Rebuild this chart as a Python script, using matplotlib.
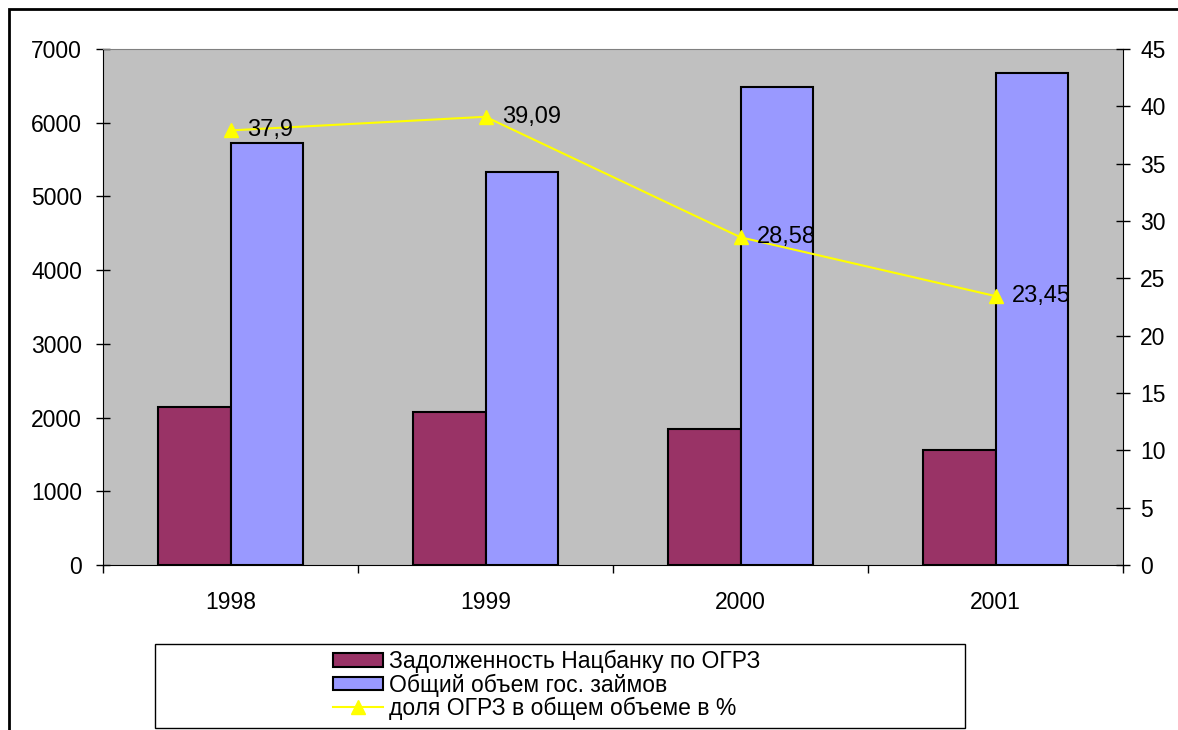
import numpy as np
import matplotlib.pyplot as plt
from matplotlib.patches import Rectangle, Patch
from matplotlib.lines import Line2D

plt.rcParams['font.family'] = ['Liberation Sans', 'DejaVu Sans']

years = ['1998', '1999', '2000', '2001']
debt_nbu = [2150, 2075, 1845, 1560]
total_loans = [5720, 5330, 6485, 6675]
share_pct = [37.9, 39.09, 28.58, 23.45]
share_labels = ['37,9', '39,09', '28,58', '23,45']

fig = plt.figure(figsize=(11.78, 7.30), dpi=100)
ax = fig.add_axes([103/1178, 1 - 565/730, 1020/1178, 516/730])
ax.set_facecolor('#C0C0C0')

x = np.arange(len(years))
w = 0.286
ax.bar(x - w/2, debt_nbu, w, color='#993366', edgecolor='black', linewidth=1.5, zorder=2)
ax.bar(x + w/2, total_loans, w, color='#9999FF', edgecolor='black', linewidth=1.5, zorder=2)
ax.set_xlim(-0.5, 3.5)
ax.set_ylim(0, 7000)
ax.set_yticks(range(0, 7001, 1000))
ax.set_xticks(x)
ax.set_xticklabels(years)
ax.set_xticks(np.arange(-0.5, 3.6, 1), minor=True)
ax.tick_params(axis='x', which='major', length=0, labelsize=16.5, pad=19)
ax.tick_params(axis='x', which='minor', length=6, width=1, direction='out')
ax.tick_params(axis='y', length=10, width=1, direction='inout', labelsize=16.5, pad=10)
ax.spines['top'].set_color('#808080')
ax.spines['right'].set_visible(False)

ax2 = ax.twinx()
ax2.plot(x, share_pct, color='#FFFF00', linewidth=1.5, marker='^', markersize=10,
         markeredgecolor='#FFFF00', zorder=3)
for xi, v, lab in zip(x, share_pct, share_labels):
    ax2.annotate(lab, (xi, v), xytext=(12, 0), textcoords='offset points',
                 va='center', ha='left', fontsize=17)
ax2.set_ylim(0, 45)
ax2.set_yticks(range(0, 46, 5))
ax2.tick_params(axis='y', length=10, width=1, direction='inout', labelsize=16.5, pad=7.5)
ax2.spines['top'].set_visible(False)
ax2.spines['left'].set_visible(False)
ax2.spines['bottom'].set_visible(False)

# outer chart frame
fig.patches.append(Rectangle((9/1178, -0.1), 1.2, 1.1 - 9/730, transform=fig.transFigure,
                             fill=False, edgecolor='black', linewidth=2, clip_on=False))
# legend box
fig.patches.append(Rectangle((155/1178, 1 - 728/730), 810/1178, 84/730, transform=fig.transFigure,
                             facecolor='white', edgecolor='black', linewidth=1))

handles = [Patch(facecolor='#993366', edgecolor='black', linewidth=1.5),
           Patch(facecolor='#9999FF', edgecolor='black', linewidth=1.5),
           Line2D([], [], color='#FFFF00', marker='^', markersize=10, linewidth=1.5)]
labels = ['Задолженность Нацбанку по ОГРЗ', 'Общий объем гос. займов',
          'доля ОГРЗ в общем объеме в %']
fig.legend(handles, labels, loc='center left', bbox_to_anchor=(333/1178, 1 - 685/730),
           frameon=False, fontsize=16.5, handlelength=2.2, handleheight=0.55,
           labelspacing=0.0, handletextpad=0.25, borderpad=0, borderaxespad=0)

fig.savefig('out.png', dpi=100)
